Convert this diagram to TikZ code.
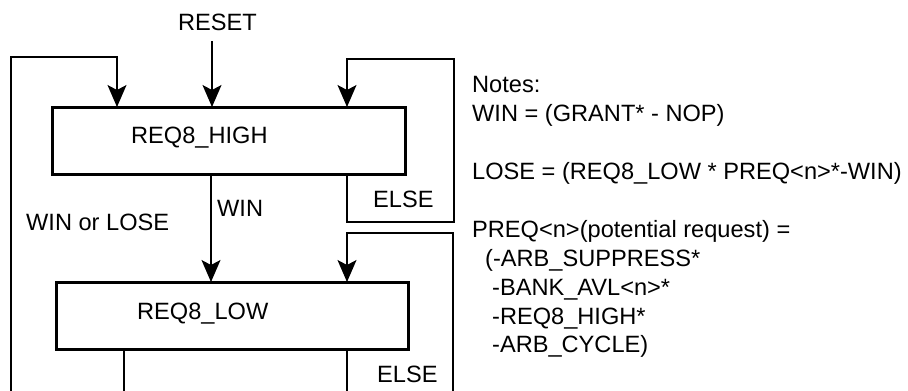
\documentclass[tikz,border=0pt]{standalone}
\usepackage{fontspec}
\setmainfont{Liberation Sans}
\usetikzlibrary{arrows.meta}
\begin{document}
\begin{tikzpicture}[x=1pt,y=-1pt,
  statebox/.style={draw,line width=3pt,minimum width=353pt,minimum height=67pt,inner sep=0pt,outer sep=0pt},
  lbl/.style={anchor=base west,inner sep=0pt,font=\fontsize{23.6}{29}\selectfont},
  wire/.style={line width=1.2pt},
  arr/.style={wire,-{Stealth[length=22pt,width=19pt,inset=5pt]}}]
\useasboundingbox (0,0) rectangle (908,391);
% states
\node[statebox] (high) at (228.5,140.5) {};
\node[statebox,minimum width=352pt] (low) at (232,315.5) {};
\node[lbl] (highl) at (131,143) {REQ8\_HIGH};
\node[lbl] (lowl) at (137,319) {REQ8\_LOW};
% labels
\node[lbl] (reset) at (178,30) {RESET};
\node[lbl] (win) at (217,216) {WIN};
\node[lbl] (wol) at (26,230) {WIN or LOSE};
\node[lbl] (else1) at (373,207) {ELSE};
\node[lbl] (else2) at (377,382) {ELSE};
% coordinates
\coordinate (rs) at (212,41);
\coordinate (lb) at (11,391);
\coordinate (lt) at (11,57);
\coordinate (la) at (117,57);
\coordinate (r1a) at (347,222);
\coordinate (r1b) at (454,222);
\coordinate (r1c) at (454,59);
\coordinate (r1d) at (347,59);
\coordinate (wx) at (211,0);
\coordinate (r2a) at (453,391);
\coordinate (r2b) at (453,233);
\coordinate (r2c) at (347,233);
\coordinate (b1) at (124,391);
\coordinate (b2) at (347,391);
% connectors
\draw[arr] (rs) -- (rs |- high.north);
\draw[arr] (lb) -- (lt) -- (la) -- (la |- high.north);
\draw[arr] (r1d |- high.south) -- (r1a) -- (r1b) -- (r1c) -- (r1d) -- (r1d |- high.north);
\draw[arr] (wx |- high.south) -- (wx |- low.north);
\draw[arr] (r2a) -- (r2b) -- (r2c) -- (r2c |- low.north);
\draw[wire] (b1 |- low.south) -- (b1);
\draw[wire] (b2 |- low.south) -- (b2);
% notes
\node[lbl] (n1) at (472,92) {Notes:};
\node[lbl] (n2) at (472,121) {WIN = (GRANT* - NOP)};
\node[lbl] (n3) at (472,179) {LOSE = (REQ8\_LOW * PREQ<n>*-WIN)};
\node[lbl] (n4) at (472,237) {PREQ<n>(potential request) =};
\node[lbl] (n5) at (485,266) {(-ARB\_SUPPRESS*};
\node[lbl] (n6) at (492,295) {-BANK\_AVL<n>*};
\node[lbl] (n7) at (492,324) {-REQ8\_HIGH*};
\node[lbl] (n8) at (492,352) {-ARB\_CYCLE)};
\end{tikzpicture}
\end{document}
